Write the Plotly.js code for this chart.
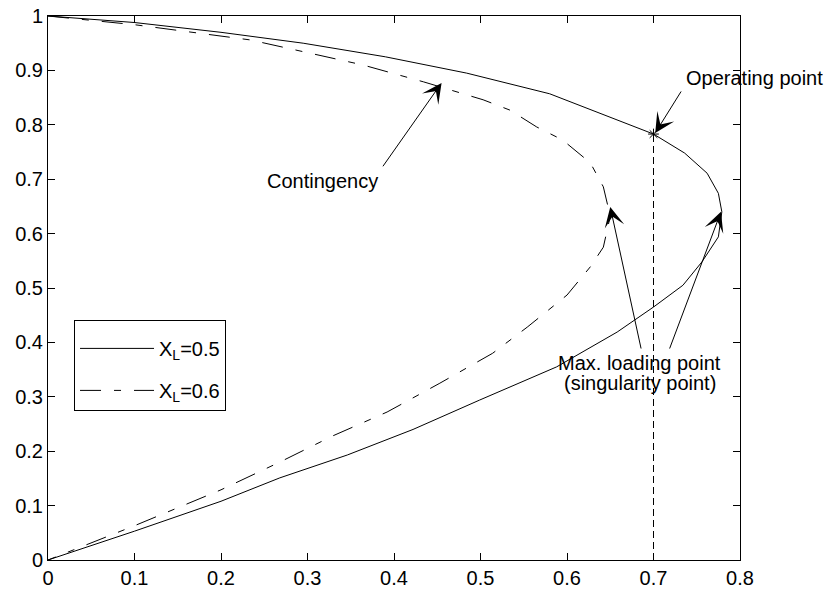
<!DOCTYPE html>
<html>
<head>
<meta charset="utf-8">
<script src="https://cdn.plot.ly/plotly-3.0.1.min.js"></script>
<style>html,body{margin:0;padding:0;background:#fff;}#chart{width:829px;height:592px;}</style>
</head>
<body>
<div id="chart"></div>
<script>
// XL = 0.5 curve (upper branch to nose, then lower branch back to origin)
var xl05_P = [0, 0.1, 0.2, 0.295, 0.39, 0.484, 0.58, 0.65, 0.70, 0.736, 0.762, 0.775, 0.779, 0.775, 0.756, 0.734, 0.70, 0.658, 0.588, 0.499, 0.422, 0.346, 0.268, 0.2, 0.1, 0];
var xl05_V = [1, 0.988, 0.970, 0.950, 0.925, 0.895, 0.857, 0.814, 0.783, 0.748, 0.711, 0.674, 0.640, 0.594, 0.548, 0.505, 0.465, 0.419, 0.355, 0.294, 0.240, 0.193, 0.151, 0.108, 0.053, 0];
// XL = 0.6 curve (contingency)
var xl06_P = [0, 0.1, 0.234, 0.364, 0.434, 0.503, 0.534, 0.565, 0.595, 0.627, 0.642, 0.650, 0.642, 0.627, 0.600, 0.554, 0.514, 0.453, 0.392, 0.329, 0.268, 0.2, 0.1, 0];
var xl06_V = [1, 0.984, 0.956, 0.910, 0.879, 0.846, 0.827, 0.796, 0.772, 0.730, 0.686, 0.632, 0.575, 0.539, 0.487, 0.428, 0.380, 0.325, 0.272, 0.228, 0.180, 0.129, 0.063, 0];
// operating point and its drop line
var opP = [0.7];
var opV = [0.783];
var dropP = [0.7, 0.7];
var dropV = [0, 0.783];
var seriesNames = ["X<sub>L</sub>=0.5", "X<sub>L</sub>=0.6"];
var xTicks = [0, 0.1, 0.2, 0.3, 0.4, 0.5, 0.6, 0.7, 0.8];
var yTicks = [0, 0.1, 0.2, 0.3, 0.4, 0.5, 0.6, 0.7, 0.8, 0.9, 1];
var textLabels = ["Operating point", "Contingency", "Max. loading point", "(singularity point)"];

var FONT = '"Liberation Sans", Arial, Helvetica, sans-serif';

var traces = [
  {x: xl05_P, y: xl05_V, mode: 'lines', name: seriesNames[0], legendgroup: 'a',
   line: {color: '#000', width: 1}},
  {x: xl06_P, y: xl06_V, mode: 'lines', name: seriesNames[1], legendgroup: 'b',
   line: {color: '#000', width: 1, dash: '21px,13px,7px,13px'}},
  {x: dropP, y: dropV, mode: 'lines', showlegend: false,
   line: {color: '#000', width: 1, dash: '7px,4px'}},
  {x: opP, y: opV, mode: 'markers', showlegend: false,
   marker: {symbol: 'asterisk-open', size: 9, color: '#000', line: {color: '#000', width: 1}}}
];

function arrow(x, y, ax, ay) {
  return {x: x, y: y, ax: ax, ay: ay, xref: 'x', yref: 'y', axref: 'x', ayref: 'y',
          text: '', showarrow: true, arrowhead: 3, arrowsize: 3.3, arrowwidth: 1, arrowcolor: '#000'};
}
function label(t, x, y, xanchor) {
  return {x: x, y: y, xref: 'x', yref: 'y', text: t, showarrow: false,
          xanchor: xanchor, yanchor: 'middle', font: {family: FONT, size: 20, color: '#000'}};
}

var layout = {
  width: 829, height: 592,
  margin: {l: 48, r: 89, t: 16, b: 32, pad: 0},
  paper_bgcolor: '#fff', plot_bgcolor: '#fff',
  font: {family: FONT, size: 20, color: '#000'},
  xaxis: {range: [0, 0.8], tickvals: xTicks, ticktext: xTicks.map(String),
          showgrid: false, zeroline: false, showline: true, linecolor: '#000', linewidth: 1,
          mirror: 'allticks', ticks: 'inside', ticklen: 7, tickcolor: '#000',
          tickfont: {family: FONT, size: 20, color: '#000'}},
  yaxis: {range: [0, 1], tickvals: yTicks, ticktext: yTicks.map(String),
          showgrid: false, zeroline: false, showline: true, linecolor: '#000', linewidth: 1,
          mirror: 'allticks', ticks: 'inside', ticklen: 7, tickcolor: '#000',
          tickfont: {family: FONT, size: 20, color: '#000'}},
  showlegend: true,
  legend: {x: 0.0376, y: 0.441, xanchor: 'left', yanchor: 'top',
           bgcolor: '#fff', bordercolor: '#000', borderwidth: 1,
           font: {family: FONT, size: 20, color: '#000'},
           title: {text: ' ', font: {size: 6}},
           itemwidth: 74, traceorder: 'grouped', tracegroupgap: 13},
  annotations: [
    label(textLabels[0], 0.735, 0.886, 'left'),
    arrow(0.702, 0.785, 0.733, 0.864),
    label(textLabels[1], 0.251, 0.697, 'left'),
    arrow(0.455, 0.877, 0.386, 0.721),
    label(textLabels[2], 0.684, 0.362, 'center'),
    label(textLabels[3], 0.684, 0.325, 'center'),
    arrow(0.650, 0.649, 0.686, 0.386),
    arrow(0.778, 0.640, 0.718, 0.386)
  ]
};

Plotly.newPlot('chart', traces, layout, {staticPlot: true, displayModeBar: false});
</script>
</body>
</html>
